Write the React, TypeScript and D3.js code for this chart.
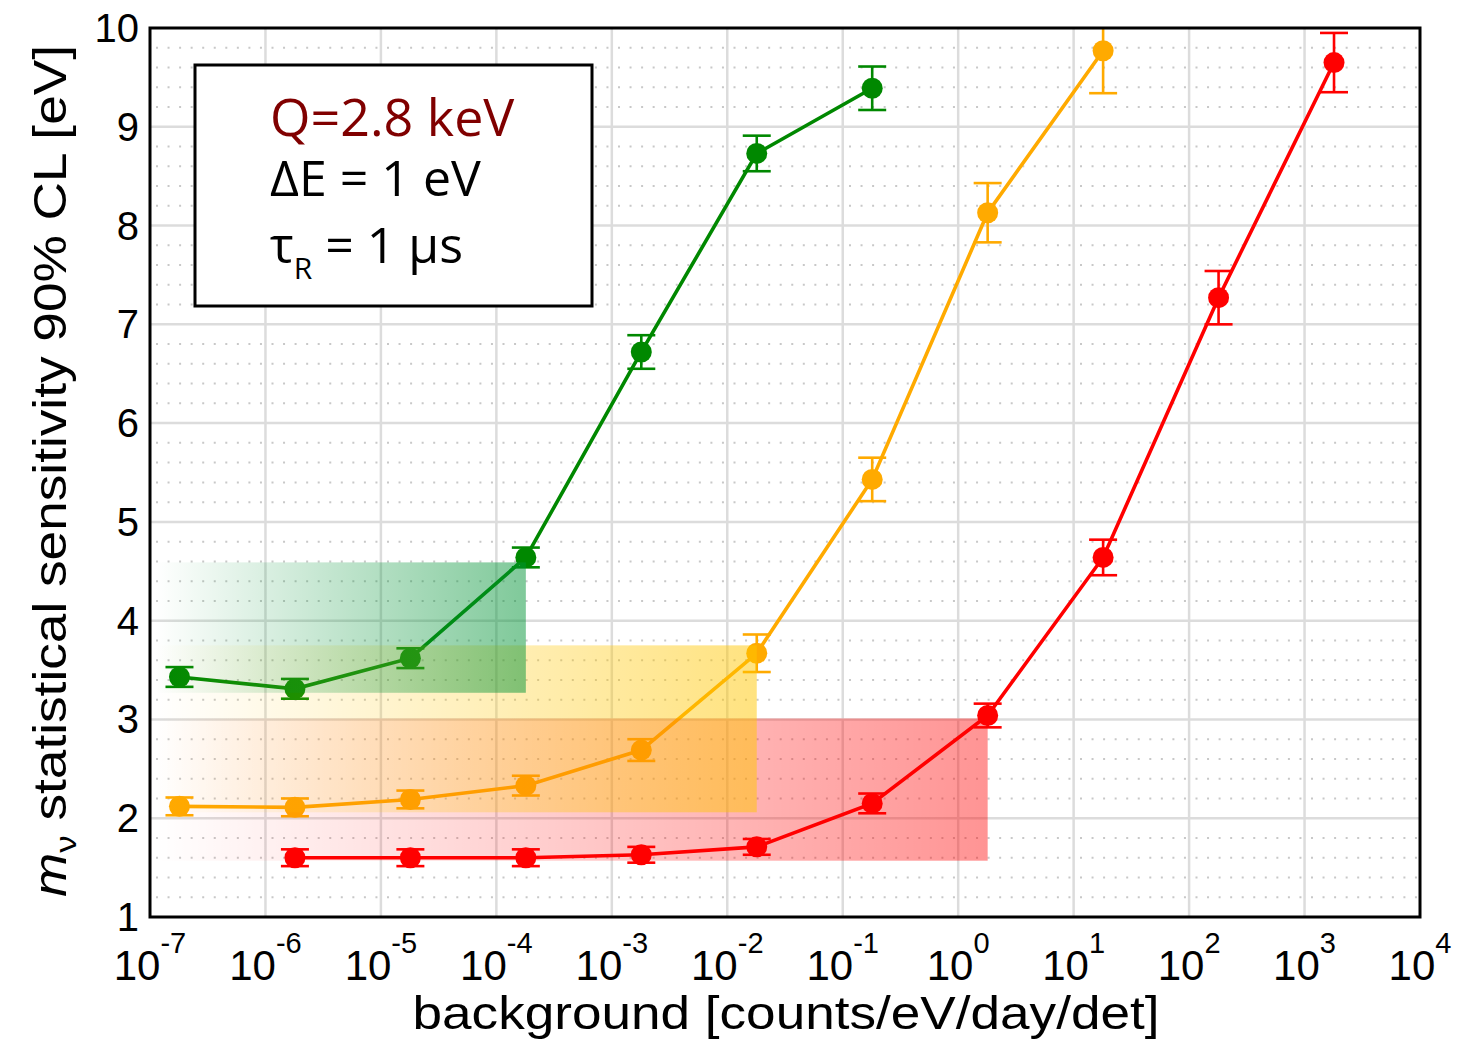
import React from "react";
import * as d3 from "d3";

// background values [counts/eV/day/det] and sensitivities [eV]
const bgGreen = [1.8e-7, 1.8e-6, 1.8e-5, 1.8e-4, 1.8e-3, 1.8e-2, 1.8e-1];
const mGreen = [3.43, 3.31, 3.62, 4.64, 6.72, 8.73, 9.39];
const errGreen = [0.1, 0.1, 0.1, 0.1, 0.17, 0.18, 0.22];

const bgOrange = [1.8e-7, 1.8e-6, 1.8e-5, 1.8e-4, 1.8e-3, 1.8e-2, 1.8e-1, 1.8e0, 1.8e1];
const mOrange = [2.12, 2.11, 2.19, 2.33, 2.69, 3.67, 5.43, 8.13, 9.77];
const errOrange = [0.09, 0.09, 0.09, 0.1, 0.11, 0.19, 0.22, 0.3, 0.43];

const bgRed = [1.8e-6, 1.8e-5, 1.8e-4, 1.8e-3, 1.8e-2, 1.8e-1, 1.8e0, 1.8e1, 1.8e2, 1.8e3];
const mRed = [1.6, 1.6, 1.6, 1.63, 1.71, 2.15, 3.04, 4.64, 7.27, 9.65];
const errRed = [0.085, 0.085, 0.085, 0.08, 0.08, 0.1, 0.12, 0.18, 0.27, 0.3];

// shaded bands: [x end, y low, y high]
const bandRed = [1.8e0, 1.57, 3.01];
const bandYellow = [1.8e-2, 2.06, 3.75];
const bandGreen = [1.8e-4, 3.27, 4.59];

const xExponents = [-7, -6, -5, -4, -3, -2, -1, 0, 1, 2, 3, 4];
const yTicks = [1, 2, 3, 4, 5, 6, 7, 8, 9, 10];

const W = 1459;
const H = 1045;
const m = { left: 150, right: 39, top: 28, bottom: 128 };

const App = () => {
  const x = d3.scaleLog().domain([1e-7, 1e4]).range([m.left, W - m.right]);
  const y = d3.scaleLinear().domain([1, 10]).range([H - m.bottom, m.top]);
  const line = d3
    .line<[number, number]>()
    .x(d => x(d[0]))
    .y(d => y(d[1]));

  const series = [
    { bg: bgGreen, val: mGreen, err: errGreen, color: "#008800" },
    { bg: bgOrange, val: mOrange, err: errOrange, color: "#ffaa00" },
    { bg: bgRed, val: mRed, err: errRed, color: "#ff0000" },
  ];

  const bands = [
    { b: bandRed, id: "gRed", color: "#ff0000", op: 0.42 },
    { b: bandYellow, id: "gYel", color: "#ffc600", op: 0.5 },
    { b: bandGreen, id: "gGrn", color: "#009335", op: 0.5 },
  ];

  // dotted minor rows every 0.2
  const minorY = d3.range(1.2, 10, 0.2).filter(v => Math.abs(v - Math.round(v)) > 0.05);

  const [x0, x1] = x.range();
  const [yb, yt] = y.range();

  return (
    <svg width={W} height={H} style={{ position: "absolute", left: 0, top: 0, background: "#fff" }}>
      <defs>
        <clipPath id="plot">
          <rect x={x0} y={yt} width={x1 - x0} height={yb - yt} />
        </clipPath>
        {bands.map(d => (
          <linearGradient key={d.id} id={d.id} x1="0" x2="1" y1="0" y2="0">
            <stop offset="0" stopColor={d.color} stopOpacity={0} />
            <stop offset="1" stopColor={d.color} stopOpacity={d.op} />
          </linearGradient>
        ))}
      </defs>

      {/* grid */}
      <g>
        {minorY.map(v => (
          <line key={"my" + v} x1={x0 + 6} x2={x1} y1={y(v)} y2={y(v)}
            stroke="#c8c8c8" strokeWidth={2} strokeDasharray="2 9.55" />
        ))}
        {xExponents.slice(1, -1).map(e => (
          <line key={"gx" + e} x1={x(10 ** e)} x2={x(10 ** e)} y1={yt} y2={yb}
            stroke="#dcdcdc" strokeWidth={2.5} />
        ))}
        {yTicks.slice(1, -1).map(v => (
          <line key={"gy" + v} x1={x0} x2={x1} y1={y(v)} y2={y(v)}
            stroke="#dcdcdc" strokeWidth={2.5} />
        ))}
      </g>

      {/* data */}
      <g clipPath="url(#plot)">
        {series.map((s, si) => {
          const pts = s.bg.map((b, i) => [b, s.val[i]] as [number, number]);
          return (
            <g key={si}>
              <path d={line(pts) || ""} fill="none" stroke={s.color} strokeWidth={3.6} />
              {pts.map((p, i) => {
                const cx = x(p[0]);
                const hi = y(p[1] + s.err[i]);
                const lo = y(p[1] - s.err[i]);
                return (
                  <g key={i} stroke={s.color} strokeWidth={2.6}>
                    <line x1={cx} x2={cx} y1={hi} y2={lo} />
                    <line x1={cx - 14} x2={cx + 14} y1={hi} y2={hi} />
                    <line x1={cx - 14} x2={cx + 14} y1={lo} y2={lo} />
                    <circle cx={cx} cy={y(p[1])} r={10.5} fill={s.color} stroke="none" />
                  </g>
                );
              })}
            </g>
          );
        })}
        {bands.map(d => (
          <rect key={d.id} x={x0 + 5} y={y(d.b[2])} width={x(d.b[0]) - x0 - 5}
            height={y(d.b[1]) - y(d.b[2])} fill={`url(#${d.id})`} />
        ))}
      </g>

      {/* frame */}
      <rect x={x0} y={yt} width={x1 - x0} height={yb - yt} fill="none" stroke="#000" strokeWidth={3} />

      {/* tick labels */}
      <g fontFamily="Liberation Sans, Arial, sans-serif" fill="#000">
        {yTicks.map(v => (
          <text key={"ty" + v} x={139} y={y(v) + 14} fontSize={40} textAnchor="end">{v}</text>
        ))}
        {xExponents.map(e => (
          <text key={"tx" + e} x={x(10 ** e)} y={980} fontSize={42} textAnchor="middle">
            10<tspan dy={-27} fontSize={29}>{e}</tspan>
          </text>
        ))}
        <text x={786} y={1029} fontSize={46} textAnchor="middle" textLength={747} lengthAdjust="spacingAndGlyphs">
          background [counts/eV/day/det]
        </text>
        <text transform="translate(66,471) rotate(-90)" fontSize={46} textAnchor="middle"
          textLength={852} lengthAdjust="spacingAndGlyphs">
          <tspan fontStyle="italic">m</tspan>
          <tspan dy={10} fontSize={30}>ν</tspan>
          <tspan dy={-10}> statistical sensitivity 90% CL [eV]</tspan>
        </text>
      </g>

      {/* info box */}
      <g fontFamily="Open Sans, sans-serif">
        <rect x={195} y={65} width={397} height={241} fill="#fff" stroke="#000" strokeWidth={3} />
        <text x={270} y={136} fontSize={52} fill="#800000">Q=2.8 keV</text>
        <text x={270} y={196} fontSize={50} fill="#000">ΔE = 1 eV</text>
        <text x={270} y={263} fontSize={50} fill="#000">
          τ<tspan dy={16} fontSize={30}>R</tspan><tspan dy={-16}> = 1 μs</tspan>
        </text>
      </g>
    </svg>
  );
};

export default App;
